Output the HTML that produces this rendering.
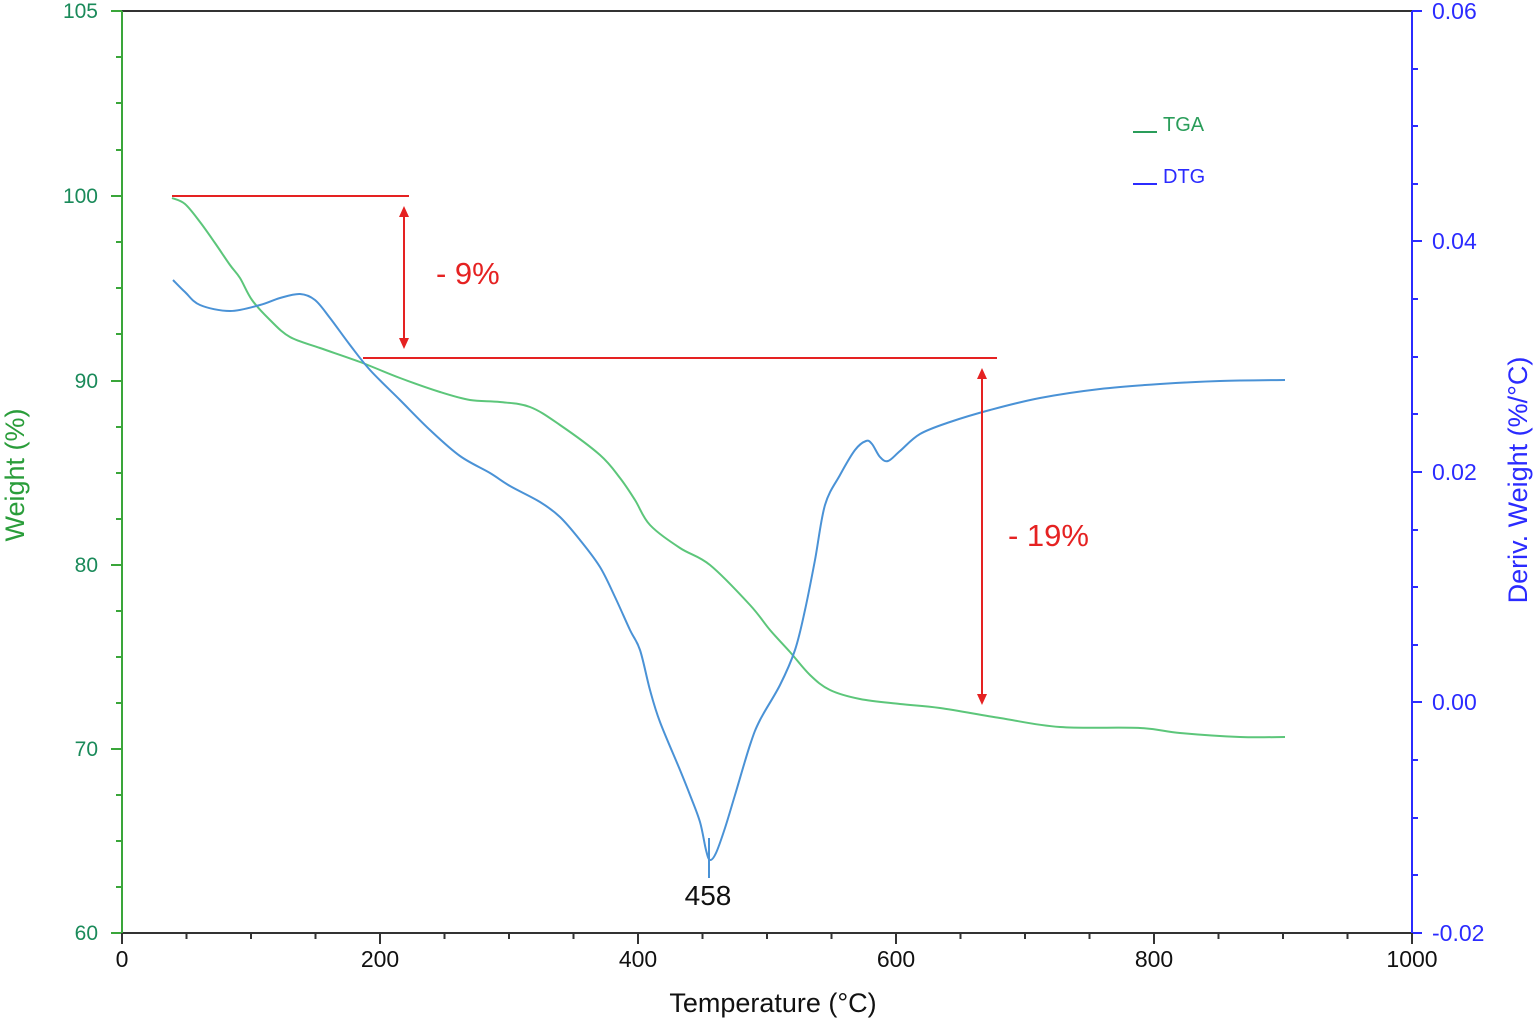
<!DOCTYPE html>
<html><head><meta charset="utf-8"><style>body{margin:0;background:#fff}svg{display:block}</style></head>
<body>
<svg id="s" width="1535" height="1022" viewBox="0 0 1535 1022" xmlns="http://www.w3.org/2000/svg" font-family="'Liberation Sans', sans-serif">
<rect width="1535" height="1022" fill="#fff"/>
<line x1="122" y1="11" x2="1412" y2="11" stroke="#333" stroke-width="2"/>
<line x1="122" y1="933" x2="1412" y2="933" stroke="#333" stroke-width="2"/>
<line x1="122" y1="11" x2="122" y2="933" stroke="#3aa63a" stroke-width="2"/>
<line x1="1412" y1="11" x2="1412" y2="933" stroke="#2b2bff" stroke-width="2"/>
<g stroke="#3aa63a" stroke-width="2">
<line x1="111" y1="11" x2="122" y2="11"/><line x1="111" y1="196" x2="122" y2="196"/><line x1="111" y1="381" x2="122" y2="381"/><line x1="111" y1="565" x2="122" y2="565"/><line x1="111" y1="749" x2="122" y2="749"/><line x1="111" y1="933" x2="122" y2="933"/>
<path d="M116 57H122M116 103H122M116 150H122M116 242H122M116 288H122M116 334H122M116 427H122M116 473H122M116 519H122M116 611H122M116 657H122M116 703H122M116 795H122M116 841H122M116 887H122"/>
</g>
<g stroke="#2b2bff" stroke-width="2">
<path d="M1412 11H1422M1412 241H1422M1412 472H1422M1412 702H1422M1412 933H1422"/>
<path d="M1412 69H1418M1412 126H1418M1412 184H1418M1412 299H1418M1412 357H1418M1412 414H1418M1412 530H1418M1412 587H1418M1412 645H1418M1412 760H1418M1412 818H1418M1412 875H1418"/>
</g>
<g stroke="#333" stroke-width="2">
<path d="M122 933V944M380 933V944M638 933V944M896 933V944M1154 933V944M1412 933V944"/>
<path d="M186.5 933V939M251 933V939M315.5 933V939M444.5 933V939M509 933V939M573.5 933V939M702.5 933V939M767 933V939M831.5 933V939M960.5 933V939M1025 933V939M1089.5 933V939M1218.5 933V939M1283 933V939M1347.5 933V939"/>
</g>
<g fill="#1a8a5a" font-size="21" text-anchor="end">
<text x="98" y="18">105</text><text x="98" y="203">100</text><text x="98" y="388">90</text><text x="98" y="572">80</text><text x="98" y="756">70</text><text x="98" y="940">60</text>
</g>
<g fill="#2b2bff" font-size="23">
<text x="1432" y="19">0.06</text><text x="1432" y="249">0.04</text><text x="1432" y="480">0.02</text><text x="1432" y="710">0.00</text><text x="1432" y="941">-0.02</text>
</g>
<g fill="#111" font-size="23" text-anchor="middle">
<text x="122" y="967">0</text><text x="380" y="967">200</text><text x="638" y="967">400</text><text x="896" y="967">600</text><text x="1154" y="967">800</text><text x="1412" y="967">1000</text>
</g>
<text x="773" y="1012" font-size="27" fill="#111" text-anchor="middle">Temperature (°C)</text>
<text transform="translate(24,475) rotate(-90)" font-size="27" fill="#2a9d3a" text-anchor="middle">Weight (%)</text>
<text transform="translate(1527,480) rotate(-90)" font-size="27" fill="#2b2bff" text-anchor="middle">Deriv. Weight (%/°C)</text>
<line x1="1133" y1="132" x2="1157" y2="132" stroke="#2a9d5a" stroke-width="2"/>
<text x="1163" y="131" font-size="20" fill="#2a9d5a">TGA</text>
<line x1="1133" y1="184" x2="1157" y2="184" stroke="#2b2bff" stroke-width="2"/>
<text x="1163" y="183" font-size="20" fill="#2b2bff">DTG</text>
<polyline class="sm" fill="none" stroke="#5cc67a" stroke-width="2" stroke-linejoin="round" points="172,198 185,204 200,222 215,243 230,265 240,278 252,300 270,320 290,337 320,348 360,362 400,378 440,392 470,400 500,402 530,407 560,425 600,455 620,478 635,500 650,525 680,548 710,565 750,605 770,630 790,652 810,675 830,690 860,699 900,704 940,708 1000,718 1060,727 1140,728 1180,733 1240,737 1285,737"/>
<polyline class="sm" fill="none" stroke="#4a92d6" stroke-width="2" stroke-linejoin="round" points="173,280 185,292 200,305 230,311 260,305 280,298 300,294 315,300 330,318 350,345 370,370 400,400 430,430 460,456 490,473 510,486 540,502 560,517 580,540 600,567 615,597 630,630 640,650 650,690 660,722 680,770 690,795 700,822 706,850 710,860 716,853 725,828 735,795 750,745 760,720 780,685 795,650 805,610 815,560 825,505 840,475 855,450 866,441 872,444 880,457 888,461 900,451 920,434 950,422 990,410 1040,398 1100,389 1160,384 1220,381 1285,380"/>
<line x1="709" y1="838" x2="709" y2="878" stroke="#4a92d6" stroke-width="2"/>
<text x="708" y="905" font-size="28" fill="#111" text-anchor="middle">458</text>
<g stroke="#e52222" stroke-width="2" fill="#e52222">
<line x1="172" y1="196" x2="409" y2="196"/>
<line x1="363" y1="358" x2="997" y2="358"/>
<line x1="404" y1="212" x2="404" y2="343"/>
<path d="M399 217L404 206L409 217Z M399 338L404 349L409 338Z" stroke="none"/>
<line x1="982" y1="374" x2="982" y2="699"/>
<path d="M977 379L982 368L987 379Z M977 694L982 705L987 694Z" stroke="none"/>
</g>
<text x="436" y="284" font-size="31" fill="#e52222">- 9%</text>
<text x="1008" y="546" font-size="31" fill="#e52222">- 19%</text>
</svg>
<script>
document.querySelectorAll('polyline.sm').forEach(function(pl){
var p=pl.getAttribute('points').trim().split(/\s+/).map(function(s){return s.split(',').map(Number);});
var d='M'+p[0][0]+' '+p[0][1];
for(var i=0;i<p.length-1;i++){var a=p[i-1]||p[i],b=p[i],c=p[i+1],e=p[i+2]||c;
d+=' C'+(b[0]+(c[0]-a[0])/6)+' '+(b[1]+(c[1]-a[1])/6)+' '+(c[0]-(e[0]-b[0])/6)+' '+(c[1]-(e[1]-b[1])/6)+' '+c[0]+' '+c[1];}
var path=document.createElementNS('http://www.w3.org/2000/svg','path');
path.setAttribute('d',d);path.setAttribute('fill','none');path.setAttribute('stroke',pl.getAttribute('stroke'));path.setAttribute('stroke-width','2');
pl.parentNode.replaceChild(path,pl);});
</script>
</body></html>
